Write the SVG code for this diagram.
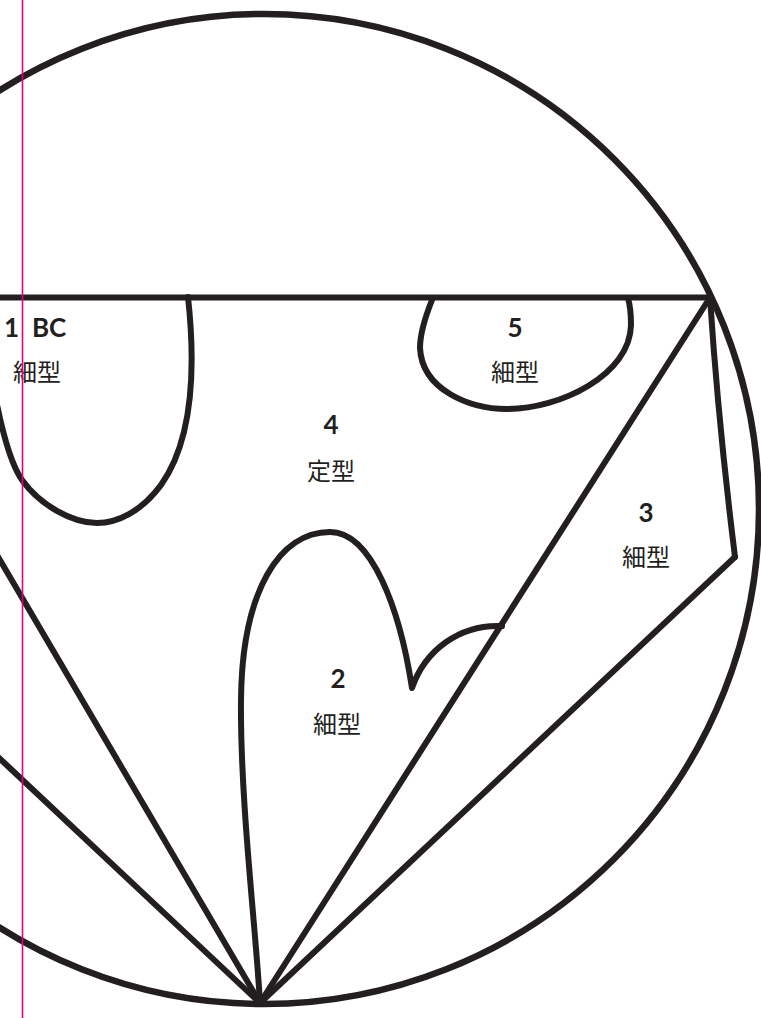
<svg xmlns="http://www.w3.org/2000/svg" width="761" height="1018" viewBox="0 0 761 1018">
<style>
.ln{fill:none;stroke:#231f20;stroke-width:6;stroke-linecap:round;stroke-linejoin:round}
.num{font-family:Lato,"Liberation Sans",sans-serif;font-weight:700;font-size:26px;fill:#231f20;text-anchor:middle}
.jp{font-family:"Noto Sans CJK JP","Noto Sans",sans-serif;font-weight:400;font-size:24px;fill:#231f20;text-anchor:middle}
</style>
<rect width="761" height="1018" fill="#ffffff"/>
<g id="outline">
<circle cx="264" cy="509" r="495" class="ln" style="stroke-width:6.5"/>
</g>
<g id="connectors">
<line x1="-10" y1="297.5" x2="710" y2="297.5" class="ln"/>
<line x1="260" y1="1003" x2="710" y2="297.5" class="ln"/>
<line x1="260" y1="1003" x2="735" y2="557" class="ln"/>
<path d="M710,297.5 Q718,420 735,557" class="ln"/>
<line x1="260" y1="1003" x2="-20" y2="526" class="ln"/>
<line x1="260" y1="1003" x2="-20" y2="740" class="ln"/>
</g>
<g id="region-1">
<path d="M188,297 C196,370 193,440 161,485 C141,512 117,523 97,523 C72,523 40,505 22,480 C12,466 4,440 -4,400" class="ln"/>
<text class="num" x="4" y="337" style="text-anchor:start">1<tspan x="32">BC</tspan></text>
<text class="jp" x="37" y="381">細型</text>
</g>
<g id="region-2">
<path d="M260,1003 C256,930 240,800 241,700 C242,590 280,532 330,532 C372,532 400,610 412,688 C425,650 460,624 502,626" class="ln"/>
<text class="num" x="338" y="688">2</text>
<text class="jp" x="337" y="733">細型</text>
</g>
<g id="region-3">
<text class="num" x="646" y="522">3</text>
<text class="jp" x="646" y="566">細型</text>
</g>
<g id="region-4">
<text class="num" x="331" y="434">4</text>
<text class="jp" x="331" y="480">定型</text>
</g>
<g id="region-5">
<path d="M432,300 C426,315 420,332 420,348 C422,390 470,409 507,409 C560,409 630,375 631,325 C631,312 630,305 628,298" class="ln"/>
<text class="num" x="515" y="337">5</text>
<text class="jp" x="515" y="381">細型</text>
</g>
<g id="guide">
<line x1="22.5" y1="0" x2="22.5" y2="1018" stroke="#e5007f" stroke-width="1.6"/>
</g>
</svg>
